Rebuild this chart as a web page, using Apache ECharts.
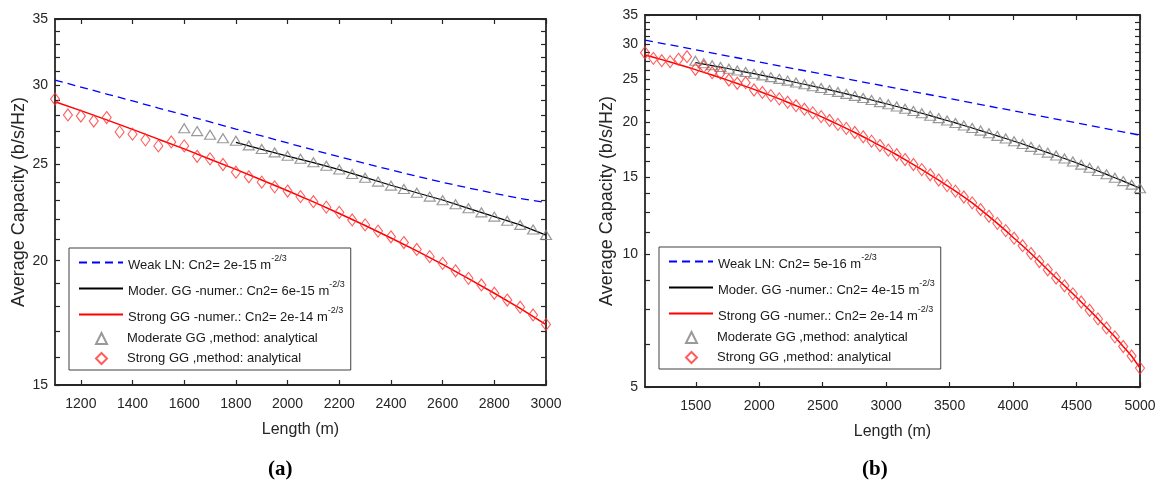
<!DOCTYPE html>
<html>
<head>
<meta charset="utf-8">
<script src="https://cdn.jsdelivr.net/npm/echarts@6/dist/echarts.min.js"></script>
<style>html,body{margin:0;padding:0;background:#fff;}#c{width:1163px;height:486px;}</style>
</head>
<body>
<div id="c"></div>
<script>
// ---------- Panel (a) data ----------
const xA50 = [1100,1150,1200,1250,1300,1350,1400,1450,1500,1550,1600,1650,1700,1750,1800,1850,1900,1950,2000,2050,2100,2150,2200,2250,2300,2350,2400,2450,2500,2550,2600,2650,2700,2750,2800,2850,2900,2950,3000];
const xA100 = [1100,1200,1300,1400,1500,1600,1700,1800,1900,2000,2100,2200,2300,2400,2500,2600,2700,2800,2900,3000];
const weakA = [30.39,29.90,29.42,28.95,28.48,28.03,27.58,27.13,26.70,26.27,25.85,25.44,25.05,24.68,24.32,23.98,23.67,23.38,23.10,22.88];
const moderNumA_x = [1800,1900,2000,2100,2200,2300,2400,2500,2600,2700,2800,2900,3000];
const moderNumA = [26.30,25.88,25.48,25.10,24.70,24.26,23.82,23.41,23.02,22.58,22.15,21.73,21.22];
const strongNumA = [28.90,28.31,27.71,27.11,26.50,25.91,25.30,24.71,24.11,23.52,22.92,22.31,21.70,21.08,20.46,19.83,19.19,18.55,17.91,17.25];
const moderAnaA_x = [1600,1650,1700,1750,1800,1850,1900,1950,2000,2050,2100,2150,2200,2250,2300,2350,2400,2450,2500,2550,2600,2650,2700,2750,2800,2850,2900,2950,3000];
const moderAnaA = [27.18,27.00,26.77,26.56,26.40,26.12,25.90,25.70,25.50,25.33,25.12,24.92,24.70,24.45,24.24,24.02,23.80,23.61,23.41,23.20,23.01,22.79,22.58,22.37,22.15,21.94,21.73,21.50,21.23];
const strongAnaA = [29.08,28.03,27.96,27.64,27.86,26.95,26.81,26.46,26.09,26.33,26.09,25.47,25.32,24.99,24.55,24.29,23.99,23.73,23.50,23.20,22.93,22.64,22.37,21.98,21.73,21.42,21.14,20.86,20.53,20.19,19.88,19.54,19.20,18.91,18.55,18.26,17.96,17.64,17.26];
const xTicksA = [1200,1400,1600,1800,2000,2200,2400,2600,2800,3000];
const yLabelsA = [15,20,25,30,35];
const yTicksA = [15,16,17,18,19,20,21,22,23,24,25,26,27,28,29,30,31,32,33,34,35];

// ---------- Panel (b) data ----------
const xB = [1100,1166,1232,1298,1364,1431,1497,1563,1629,1695,1761,1827,1893,1959,2025,2092,2158,2224,2290,2356,2422,2488,2554,2620,2686,2753,2819,2885,2951,3017,3083,3149,3215,3281,3347,3414,3480,3546,3612,3678,3744,3810,3876,3942,4008,4075,4141,4207,4273,4339,4405,4471,4537,4603,4669,4736,4802,4868,4934,5000];
const weakB_x = [1100,1500,2000,2500,3000,3500,4000,4500,5000];
const weakB = [30.70,29.17,27.37,25.68,24.09,22.61,21.21,19.90,18.67];
const moderNumB = [27.30,27.08,26.86,26.64,26.42,26.19,25.97,25.75,25.52,25.29,25.06,24.83,24.59,24.36,24.12,23.89,23.65,23.41,23.17,22.93,22.68,22.44,22.19,21.94,21.69,21.44,21.18,20.93,20.67,20.41,20.16,19.90,19.64,19.38,19.12,18.86,18.60,18.34,18.08,17.82,17.56,17.30,17.04,16.78,16.52,16.26,16.00,15.74,15.48,15.21,14.94,14.68,14.41,14.14];
const moderAnaB = [27.55,27.20,26.90,26.66,26.42,26.19,25.97,25.75,25.52,25.29,25.06,24.83,24.59,24.36,24.12,23.89,23.65,23.41,23.17,22.93,22.68,22.44,22.19,21.94,21.69,21.44,21.18,20.93,20.67,20.41,20.16,19.90,19.64,19.38,19.12,18.86,18.60,18.34,18.08,17.82,17.56,17.30,17.04,16.78,16.52,16.26,16.00,15.74,15.48,15.21,14.94,14.68,14.41,14.14];
const strongNumB = [28.40,28.06,27.71,27.37,27.01,26.66,26.30,25.93,25.57,25.20,24.83,24.46,24.09,23.72,23.34,22.96,22.57,22.18,21.78,21.38,20.98,20.57,20.16,19.75,19.34,18.93,18.51,18.09,17.68,17.26,16.85,16.43,16.01,15.59,15.17,14.76,14.34,13.93,13.51,13.10,12.65,12.21,11.77,11.33,10.89,10.47,10.05,9.64,9.23,8.84,8.49,8.14,7.80,7.47,7.14,6.81,6.50,6.18,5.88,5.52];
const strongAnaB = [28.73,27.90,27.56,27.42,27.76,28.14,26.35,26.71,25.88,25.80,24.91,24.49,24.56,23.64,23.34,22.96,22.57,22.18,21.78,21.38,20.98,20.57,20.16,19.75,19.34,18.93,18.51,18.09,17.68,17.26,16.85,16.43,16.01,15.59,15.17,14.76,14.34,13.93,13.51,13.10,12.65,12.21,11.77,11.33,10.89,10.47,10.05,9.64,9.23,8.84,8.49,8.14,7.80,7.47,7.14,6.81,6.50,6.18,5.88,5.52];
const xTicksB = [1500,2000,2500,3000,3500,4000,4500,5000];
const yLabelsB = [5,10,15,20,25,30,35];
const yTicksB = [5,6.25,7.5,8.75,10,11.25,12.5,13.75,15,16.25,17.5,18.75,20,21.25,22.5,23.75,25,26.25,27.5,28.75,30,31.25,32.5,33.75,35];

// legend names
const namesA = ['Weak LN: Cn2= 2e-15 m', 'Moder. GG -numer.: Cn2= 6e-15 m', 'Strong GG -numer.: Cn2= 2e-14 m', 'Moderate GG ,method: analytical', 'Strong GG ,method: analytical'];
const namesB = ['Weak LN: Cn2= 5e-16 m', 'Moder. GG -numer.: Cn2= 4e-15 m', 'Strong GG -numer.: Cn2= 2e-14 m', 'Moderate GG ,method: analytical', 'Strong GG ,method: analytical'];

// ---------- build ----------
const FONT = "'Liberation Sans', Arial, Helvetica, sans-serif";
const AX = '#262626';
const zip = (xs, ys) => xs.map((x, i) => [x, ys[i]]);

function xAxes(grid, min, max, ticks) {
  const base = {
    gridIndex: grid, type: 'value', min: min, max: max,
    splitLine: {show: false},
    axisLine: {show: true, onZero: false, lineStyle: {color: AX, width: 1.8}},
    axisTick: {show: true, inside: true, length: 5, customValues: ticks, lineStyle: {color: AX, width: 1.2}}
  };
  return [
    Object.assign({}, base, {
      position: 'bottom',
      axisLabel: {show: true, customValues: ticks, margin: 12, color: AX, fontFamily: FONT, fontSize: 14,
        formatter: v => String(Math.round(v))},
      name: 'Length (m)', nameLocation: 'middle', nameGap: 37,
      nameTextStyle: {color: AX, fontFamily: FONT, fontSize: 16}
    }),
    Object.assign({}, base, {position: 'top', axisLabel: {show: false}})
  ];
}
function yAxes(grid, min, max, labels, ticks, gap) {
  const base = {
    gridIndex: grid, type: 'log', logBase: 10, min: min, max: max,
    splitLine: {show: false}, minorTick: {show: false},
    axisLine: {show: true, onZero: false, lineStyle: {color: AX, width: 1.8}},
    axisTick: {show: true, inside: true, length: 5, customValues: ticks, lineStyle: {color: AX, width: 1.2}}
  };
  return [
    Object.assign({}, base, {
      position: 'left',
      axisLabel: {show: true, customValues: labels, margin: 7, color: AX, fontFamily: FONT, fontSize: 14,
        formatter: v => String(Math.round(v))},
      name: 'Average Capacity (b/s/Hz)', nameLocation: 'middle', nameGap: gap,
      nameTextStyle: {color: AX, fontFamily: FONT, fontSize: 18}
    }),
    Object.assign({}, base, {position: 'right', axisLabel: {show: false}})
  ];
}
function panelSeries(xi, yi, d, names) {
  return [
    {name: names[0], type: 'line', xAxisIndex: xi, yAxisIndex: yi, data: d.weak, symbol: 'none',
     lineStyle: {color: '#0000ff', width: 1.3, type: [8, 5]}, itemStyle: {color: '#0000ff'}, z: 3},
    {name: names[1], type: 'line', xAxisIndex: xi, yAxisIndex: yi, data: d.moderNum, symbol: 'none',
     lineStyle: {color: '#000000', width: 1.2}, itemStyle: {color: '#000000'}, z: 3},
    {name: names[2], type: 'line', xAxisIndex: xi, yAxisIndex: yi, data: d.strongNum, symbol: 'none',
     lineStyle: {color: '#ff0000', width: 1.5}, itemStyle: {color: '#ff0000'}, z: 3},
    {name: names[3], type: 'scatter', xAxisIndex: xi, yAxisIndex: yi, data: d.moderAna, symbol: 'triangle',
     symbolSize: [11, 9],
     itemStyle: {color: 'rgba(255,255,255,0)', borderColor: '#808080', borderWidth: 1.2}, z: 4},
    {name: names[4], type: 'scatter', xAxisIndex: xi, yAxisIndex: yi, data: d.strongAna, symbol: 'diamond',
     symbolSize: [9, 12],
     itemStyle: {color: 'rgba(255,255,255,0)', borderColor: '#ff3333', borderWidth: 1.1}, z: 4}
  ];
}
const rich = {
  t: {fontFamily: FONT, fontSize: 13, color: '#1a1a1a', padding: [6, 0, 0, 0]},
  s: {fontFamily: FONT, fontSize: 9, color: '#1a1a1a', verticalAlign: 'top', padding: [1, 0, 0, 0]},
  p: {fontFamily: FONT, fontSize: 13, color: '#1a1a1a', padding: [0, 0, 0, 15]}
};
function legendFmt(name) {
  if (/ m$/.test(name)) return '{t|' + name + '}{s|-2/3}';
  return '{p|' + name + '}';
}
// box legend: the three line entries, bottom padding leaves room for the marker rows
function lineLegend(left, top, names) {
  return {
    left: left, top: top, orient: 'vertical', padding: [6, 6, 46, 9], itemGap: 8,
    itemWidth: 44, itemHeight: 11, selectedMode: false,
    borderColor: '#404040', borderWidth: 1, backgroundColor: '#ffffff',
    data: names.slice(0, 3).map(n => ({name: n, itemStyle: {opacity: 0}})),
    formatter: legendFmt,
    textStyle: {fontFamily: FONT, fontSize: 13, color: '#1a1a1a', rich: rich}
  };
}
// marker legend: triangle and diamond rows, inside the same box
function markerLegend(left, top, names) {
  return {
    left: left, top: top, orient: 'vertical', padding: 0, itemGap: 7,
    itemWidth: 11, itemHeight: 11, selectedMode: false, z: 5,
    data: [{name: names[3], icon: 'triangle'}, {name: names[4], icon: 'diamond'}],
    formatter: legendFmt,
    textStyle: {fontFamily: FONT, fontSize: 13, color: '#1a1a1a', rich: rich}
  };
}
const capRich = {
  p: {fontFamily: "'Liberation Serif', 'DejaVu Serif', serif", fontSize: 21, color: '#000'},
  b: {fontFamily: "'Liberation Serif', 'DejaVu Serif', serif", fontSize: 21, fontWeight: 'bold', color: '#000'}
};

const dataA = {
  weak: zip(xA100, weakA), moderNum: zip(moderNumA_x, moderNumA), strongNum: zip(xA100, strongNumA),
  moderAna: zip(moderAnaA_x, moderAnaA), strongAna: zip(xA50, strongAnaA)
};
const dataB = {
  weak: zip(weakB_x, weakB), moderNum: zip(xB.slice(6), moderNumB), strongNum: zip(xB, strongNumB),
  moderAna: zip(xB.slice(6), moderAnaB), strongAna: zip(xB, strongAnaB)
};

const chart = echarts.init(document.getElementById('c'), null, {renderer: 'canvas'});
chart.setOption({
  animation: false,
  backgroundColor: '#ffffff',
  title: [
    {text: '{p|(}{b|a}{p|)}', left: 268, top: 459, padding: 0, textStyle: {rich: capRich}},
    {text: '{p|(}{b|b}{p|)}', left: 862, top: 459, padding: 0, textStyle: {rich: capRich}}
  ],
  grid: [
    {left: 55, top: 19, width: 491, height: 366},
    {left: 645, top: 15, width: 495, height: 372}
  ],
  xAxis: [].concat(xAxes(0, 1100, 3000, xTicksA), xAxes(1, 1100, 5000, xTicksB)),
  yAxis: [].concat(yAxes(0, 15, 35, yLabelsA, yTicksA, 27), yAxes(1, 5, 35, yLabelsB, yTicksB, 29)),
  legend: [
    lineLegend(69, 248, namesA), markerLegend(95, 332, namesA),
    lineLegend(659, 247, namesB), markerLegend(685, 331, namesB)
  ],
  series: [].concat(panelSeries(0, 0, dataA, namesA), panelSeries(2, 2, dataB, namesB))
});
</script>
</body>
</html>
